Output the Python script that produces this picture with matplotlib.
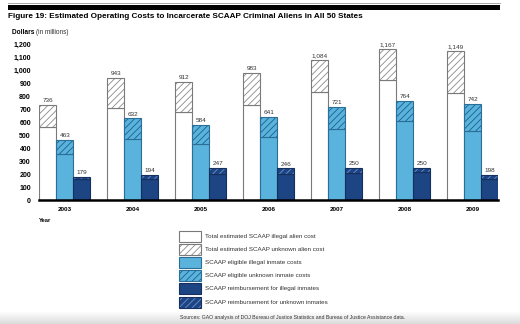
import numpy as np
import matplotlib
matplotlib.use("Agg")
import matplotlib.pyplot as plt
from matplotlib.patches import Rectangle

plt.rcParams["font.family"] = ["Liberation Sans", "DejaVu Sans"]
plt.rcParams["hatch.linewidth"] = 0.6

# ----------------------------------------------------------------------
# Data (dollars in millions)
# ----------------------------------------------------------------------
years = ["2003", "2004", "2005", "2006", "2007", "2008", "2009"]

# total estimated SCAAP costs: illegal part + unknown part = total
total_cost = [736, 943, 912, 983, 1084, 1167, 1149]
total_illegal = [563, 710, 684, 735, 833, 931, 826]

# SCAAP eligible inmate costs
eligible_cost = [463, 632, 584, 641, 721, 764, 742]
eligible_illegal = [355, 475, 437, 486, 550, 614, 537]

# SCAAP reimbursements
reimb_cost = [179, 194, 247, 246, 250, 250, 198]
reimb_illegal = [162, 164, 205, 203, 208, 218, 164]

yticks = list(range(0, 1201, 100))

legend_labels = [
    "Total estimated SCAAP illegal alien cost",
    "Total estimated SCAAP unknown alien cost",
    "SCAAP eligible illegal inmate costs",
    "SCAAP eligible unknown inmate costs",
    "SCAAP reimbursement for illegal inmates",
    "SCAAP reimbursement for unknown inmates",
]

# ----------------------------------------------------------------------
# Styles: (fill, hatch stripe colour, outline colour)
# ----------------------------------------------------------------------
WHITE = ("white", "#8a8a8a", "#7a7a7a")
LIGHT = ("#5ab3dc", "#1d5f8c", "#2b6f98")
DARK = ("#1d4584", "#6d8fcf", "#16305e")
HATCH = "/////"

W, H = 520, 324
fig = plt.figure(figsize=(W / 100, H / 100), dpi=100)


def fx(px):
    return px / W


def fy(py):
    return 1 - py / H


ax = fig.add_axes([fx(39.3), fy(200.3), fx(498.3) - fx(39.3), fy(44.8) - fy(200.3)])
ax.set_xlim(-0.375, len(years) - 0.625)
ax.set_ylim(0, 1200)

x = np.arange(len(years))
bw = 0.25


def stacked(xpos, lower, total, style):
    fill, stripe, edge = style
    upper = np.array(total) - np.array(lower)
    ax.bar(xpos, lower, bw, color=fill, edgecolor=edge, linewidth=0.8, zorder=2)
    # hatched part: stripe colour comes from edgecolor, outline drawn after
    ax.bar(xpos, upper, bw, bottom=lower, color=fill, edgecolor=stripe,
           hatch=HATCH, linewidth=0, zorder=2)
    ax.bar(xpos, upper, bw, bottom=lower, fill=False, edgecolor=edge,
           linewidth=0.8, zorder=3)
    for xi, t in zip(xpos, total):
        ax.text(xi, t + 14, f"{t:,}", ha="center", va="bottom",
                fontsize=4.6, color="#333333", clip_on=False)


stacked(x - bw, total_illegal, total_cost, WHITE)
stacked(x, eligible_illegal, eligible_cost, LIGHT)
stacked(x + bw, reimb_illegal, reimb_cost, DARK)

for s in ["top", "right", "left"]:
    ax.spines[s].set_visible(False)
ax.spines["bottom"].set_linewidth(1.8)
ax.spines["bottom"].set_zorder(5)

ax.set_yticks(yticks)
ax.set_yticklabels([f"{v:,}" for v in yticks], fontsize=5, fontweight="bold")
ax.set_xticks(x)
ax.set_xticklabels(years, fontsize=4.6, fontweight="bold")
ax.tick_params(axis="y", length=0, pad=6)
ax.tick_params(axis="x", length=0, pad=5)

# ----------------------------------------------------------------------
# Figure header and labels
# ----------------------------------------------------------------------
fig.add_artist(plt.Line2D([fx(8), fx(500)], [fy(2.5), fy(2.5)], color="#9a9a9a", lw=0.6))
fig.add_artist(Rectangle((fx(8), fy(10)), fx(500) - fx(8), fy(5) - fy(10),
                         transform=fig.transFigure, color="black", lw=0))
fig.text(fx(8), fy(17), "Figure 19: Estimated Operating Costs to Incarcerate SCAAP "
         "Criminal Aliens in All 50 States", fontsize=5.85, fontweight="bold", va="center")
t = fig.text(fx(12), fy(33), "Dollars ", fontsize=4.7, fontweight="bold", va="center")
fig.canvas.draw()
bb = t.get_window_extent()
fig.text(bb.x1 / W, fy(33), "(in millions)", fontsize=4.7, va="center", color="#333333")
fig.text(fx(39), fy(220), "Year", fontsize=4.2, fontweight="bold", va="center")

# ----------------------------------------------------------------------
# Legend drawn by hand
# ----------------------------------------------------------------------
legend_styles = [(WHITE, None), (WHITE, HATCH), (LIGHT, None),
                 (LIGHT, HATCH), (DARK, None), (DARK, HATCH)]
row_y = [236.7, 249.6, 262.5, 275.6, 288.8, 302]
for (style, hatch), label, ry in zip(legend_styles, legend_labels, row_y):
    fill, stripe, edge = style
    x0, y0, bwid, bht = fx(179.3), fy(ry + 5.5), fx(21.5), 11 / H
    if hatch:
        fig.add_artist(Rectangle((x0, y0), bwid, bht, transform=fig.transFigure,
                                 facecolor=fill, edgecolor=stripe, hatch=hatch, lw=0))
        fig.add_artist(Rectangle((x0, y0), bwid, bht, transform=fig.transFigure,
                                 fill=False, edgecolor=edge, lw=0.8))
    else:
        fig.add_artist(Rectangle((x0, y0), bwid, bht, transform=fig.transFigure,
                                 facecolor=fill, edgecolor=edge, lw=0.8))
    fig.text(fx(205), fy(ry), label, fontsize=4.5, va="center", color="#333333")

fig.text(fx(180), fy(318), "Sources: GAO analysis of DOJ Bureau of Justice Statistics "
         "and Bureau of Justice Assistance data.", fontsize=3.7, va="center", color="#333333")

# soft grey shading along the bottom edge
grad = np.linspace(1.0, 0.86, 50).reshape(-1, 1)
bg = fig.add_axes([0, 0, 1, fy(311)], zorder=-1)
bg.imshow(grad, cmap="gray", vmin=0, vmax=1, aspect="auto", extent=[0, 1, 0, 1])
bg.axis("off")

fig.savefig("out.png", dpi=100)
